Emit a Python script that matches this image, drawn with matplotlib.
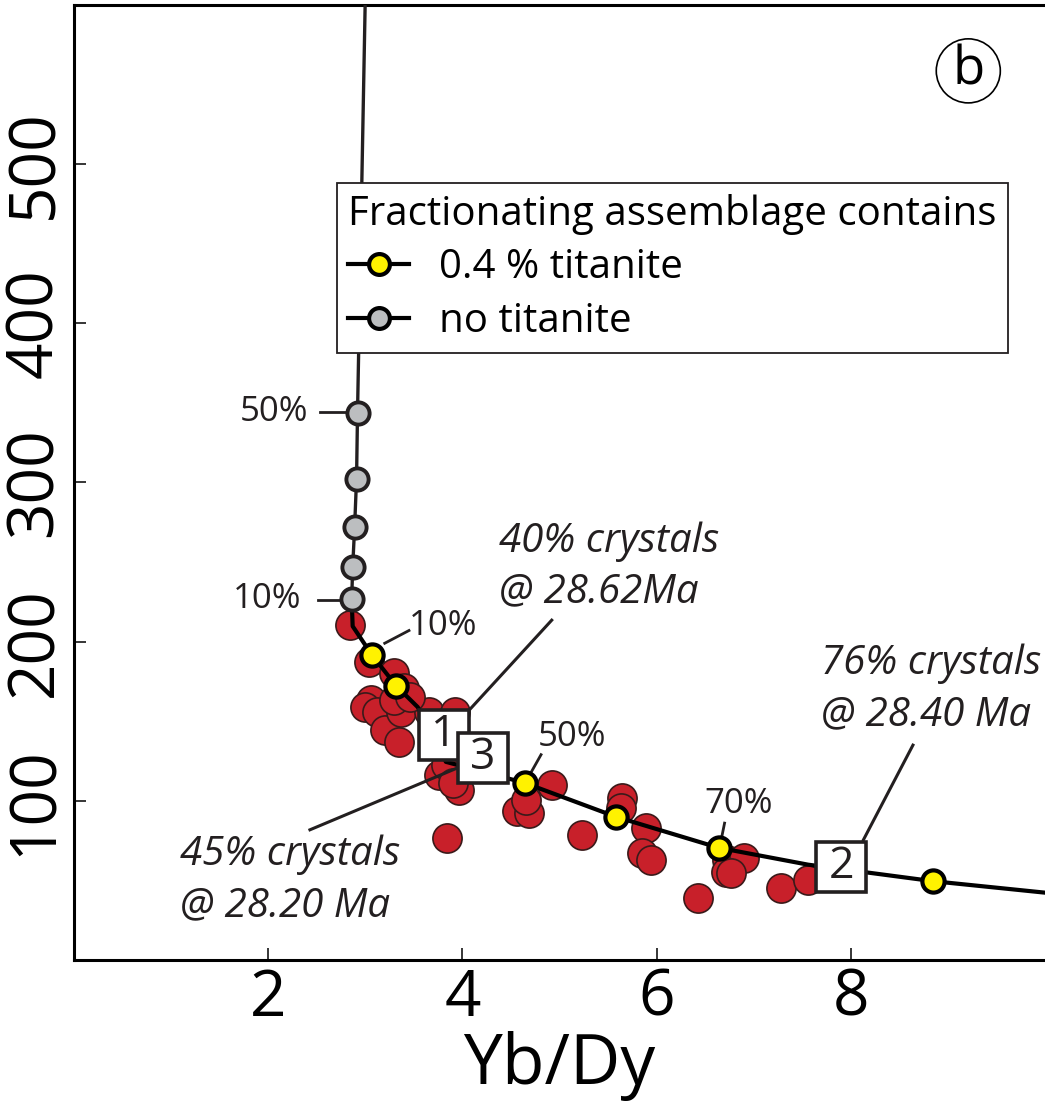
import matplotlib
matplotlib.use('Agg')
import matplotlib.pyplot as plt
from matplotlib.lines import Line2D

plt.rcParams['font.family'] = ['Open Sans', 'DejaVu Sans']

# Образцы (красные точки): Yb/Dy и Zr (?)
sample_x = [2.84, 3.04, 3.30, 3.40, 3.06, 3.00, 3.12, 3.20, 3.35, 3.37, 3.30, 3.66,
            3.92, 3.76, 3.83, 3.97, 3.84, 4.92, 4.56, 4.69, 4.66, 5.23, 5.64, 5.63,
            5.89, 5.85, 5.94, 6.72, 6.90, 6.71, 6.77, 6.43, 7.28, 7.56, 3.46, 3.90]
sample_y = [210.3, 187.1, 180.3, 170.8, 163.3, 158.9, 155.8, 144.5, 137.0, 155.8, 163.3, 155.8,
            155.8, 116.3, 122.6, 106.9, 76.8, 110.0, 93.7, 92.5, 100.6, 78.7, 101.9, 95.6,
            83.1, 67.4, 63.0, 63.0, 64.3, 55.5, 54.9, 39.2, 45.5, 50.5, 165.0, 111.0]

# Модель без титанита (серая кривая)
gray_curve_x = [2.86, 2.87, 2.89, 2.91, 2.92, 3.00]
gray_curve_y = [226.6, 246.6, 271.8, 302.5, 343.9, 605.0]
gray_pts_x = [2.86, 2.87, 2.89, 2.91, 2.92]
gray_pts_y = [226.6, 246.6, 271.8, 302.5, 343.9]

# Модель с 0.4 % титанита (жёлтая кривая)
yel_curve_x = [2.86, 2.87, 3.07, 3.32, 3.54, 3.83, 4.64, 5.58, 6.64, 7.56, 8.85, 10.05]
yel_curve_y = [226.6, 209.7, 191.5, 172.1, 158.9, 124.5, 111.3, 90.0, 70.5, 59.9, 49.5, 42.0]
yel_pts_x = [3.07, 3.32, 4.64, 5.58, 6.64, 8.85]
yel_pts_y = [191.5, 172.1, 111.3, 90.0, 70.5, 49.5]

# Номера проб в квадратиках
box_labels = ['1', '3', '2']
box_x = [3.81, 4.21, 7.90]
box_y = [141.4, 127.0, 58.7]

fig = plt.figure(figsize=(10.45, 11.06), dpi=100)
ax = fig.add_axes([0.0708, 0.132, 0.9292, 0.8635])

dark = '#231f20'
red = '#c8202a'

ax.plot(sample_x, sample_y, 'o', ms=21, mfc=red, mec='#3a1a1a', mew=1.2, ls='none', zorder=2)

ax.plot(gray_curve_x, gray_curve_y, color=dark, lw=2.4, zorder=3, solid_capstyle='butt')
ax.plot(yel_curve_x, yel_curve_y, color='black', lw=3.0, zorder=3)
ax.plot(gray_pts_x, gray_pts_y, 'o', ms=16, mfc='#bcbec0', mec=dark, mew=2.8, ls='none', zorder=4)
ax.plot(yel_pts_x, yel_pts_y, 'o', ms=16, mfc='#fff200', mec='black', mew=3.0, ls='none', zorder=4)

# подписи степени кристаллизации
pct = dict(color=dark, lw=2.0, zorder=3)
ax.plot([2.53, 2.79], [344, 344], **pct)
ax.text(2.41, 344, '50%', fontsize=25, ha='right', va='center', color=dark)
ax.plot([2.51, 2.79], [226, 226], **pct)
ax.text(2.34, 227, '10%', fontsize=25, ha='right', va='center', color=dark)
ax.plot([3.20, 3.45], [199, 207], **pct)
ax.text(3.45, 210, '10%', fontsize=25, ha='left', va='center', color=dark)
ax.plot([4.69, 4.81], [116, 129], **pct)
ax.text(4.78, 140, '50%', fontsize=25, ha='left', va='center', color=dark)
ax.plot([6.66, 6.70], [74, 86], **pct)
ax.text(6.84, 98, '70%', fontsize=25, ha='center', va='center', color=dark)

# выноски
lead = dict(color=dark, lw=2.2, zorder=5)
ax.plot([4.07, 4.92], [157, 213.5], **lead)
ax.plot([2.43, 3.95], [81.8, 120.7], **lead)
ax.plot([8.13, 8.64], [75.5, 135], **lead)

it = dict(fontsize=29, style='italic', ha='left', va='center', color=dark, linespacing=1.35)
ax.text(4.38, 247, '40% crystals\n@ 28.62Ma', **it)
ax.text(1.09, 50, '45% crystals\n@ 28.20 Ma', **it)
ax.text(7.69, 170, '76% crystals\n@ 28.40 Ma', **it)

for i, (lab, bx, by) in enumerate(zip(box_labels, box_x, box_y)):
    ax.plot([bx], [by], 's', ms=36.5, mfc='white', mec=dark, mew=2.6, zorder=6 + i)
    ax.text(bx, by, lab, fontsize=32, ha='center', va='center', color=dark, zorder=6 + i)

ax.text(0.921, 0.931, 'b', transform=ax.transAxes, fontsize=38, ha='center', va='center',
        color='black', bbox=dict(boxstyle='circle,pad=0.1', fc='white', ec='black', lw=1.2))

handles = [
    Line2D([], [], color='black', lw=3, marker='o', ms=15, mfc='#fff200', mec='black', mew=3),
    Line2D([], [], color='black', lw=3, marker='o', ms=15, mfc='#bcbec0', mec='black', mew=3),
]
leg = ax.legend(handles, ['0.4 % titanite', 'no titanite'], title='Fractionating assemblage contains',
                loc='upper left', bbox_to_anchor=(0.271, 0.814), borderaxespad=0, fontsize=29,
                title_fontsize=29, fancybox=False, framealpha=1, edgecolor=dark,
                handlelength=1.5, handletextpad=0.75, labelspacing=0.32, borderpad=0.28,
                alignment='left', numpoints=1)
leg.get_frame().set_linewidth(1.3)
leg.set_zorder(10)

ax.set_xlim(0, 10)
ax.set_ylim(0, 600)
ax.set_xticks([2, 4, 6, 8])
ax.set_yticks([100, 200, 300, 400, 500])
ax.tick_params(direction='in', length=8.6, width=1.1, labelsize=46, pad=5)
ax.tick_params(axis='y', labelrotation=90)
for lab in ax.get_yticklabels():
    lab.set_va('center')
ax.set_xlabel('Yb/Dy', fontsize=50, labelpad=0)

ax.spines['right'].set_visible(False)
for s in ['left', 'bottom', 'top']:
    ax.spines[s].set_linewidth(2.2)

plt.savefig('out.png', dpi=100)
